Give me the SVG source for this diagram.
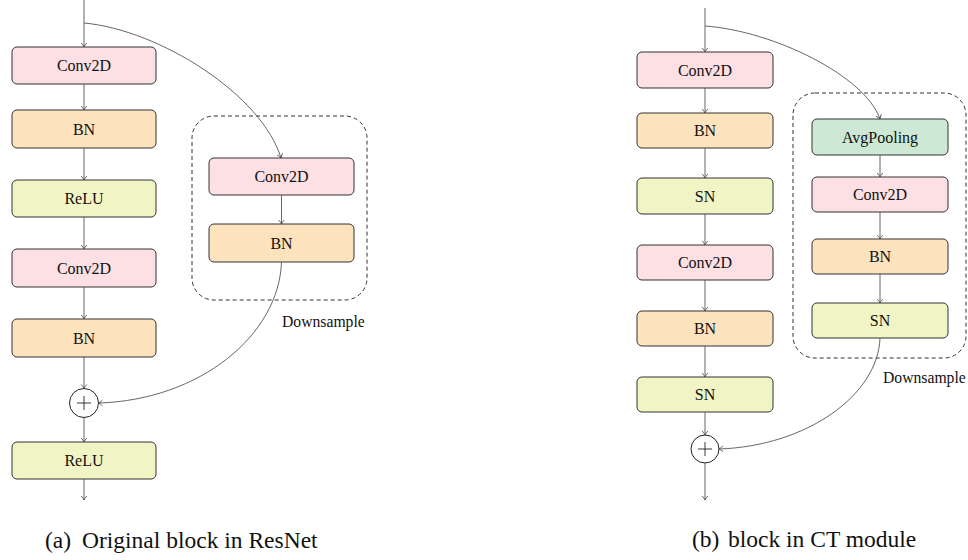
<svg xmlns="http://www.w3.org/2000/svg" width="968" height="560" viewBox="0 0 968 560">
<defs>
<style>
.box{stroke:#333;stroke-width:1;}
.conv{fill:#fce0e3;}
.bn{fill:#fde2be;}
.act{fill:#f1f4c4;}
.pool{fill:#cde8d4;}
.lbl{font-family:"Liberation Serif","Times New Roman",serif;font-size:16px;fill:#111;text-anchor:middle;}
.ds{fill:none;stroke:#333;stroke-width:1;stroke-dasharray:4 3;}
.dsl{font-family:"Liberation Serif","Times New Roman",serif;font-size:15.7px;fill:#111;}
.cap{font-family:"Liberation Serif","Times New Roman",serif;font-size:23.5px;fill:#111;}
.edge{fill:none;stroke:#555;stroke-width:0.9;marker-end:url(#arr);}
.plus{fill:#fff;stroke:#222;stroke-width:1;}
</style>
<marker id="arr" viewBox="-5 -4 6 8" refX="0" refY="0" markerWidth="6" markerHeight="8" markerUnits="userSpaceOnUse" orient="auto">
<path d="M-4,-2.8 Q-1.5,-0.6 0,0 Q-1.5,0.6 -4,2.8" fill="none" stroke="#444" stroke-width="0.8"/>
</marker>
</defs>
<rect width="968" height="560" fill="#fff"/>

<!-- left panel -->
<g id="l_ds"><rect class="ds" x="192" y="116" width="175" height="184" rx="22"/><text class="dsl" x="282" y="327">Downsample</text></g>
<g id="l_conv1"><rect class="box conv" x="12" y="47" width="144" height="37" rx="5"/><text class="lbl" x="84" y="71">Conv2D</text></g>
<g id="l_bn1"><rect class="box bn" x="12" y="110" width="144" height="38" rx="5"/><text class="lbl" x="84" y="134.5">BN</text></g>
<g id="l_relu1"><rect class="box act" x="12" y="180" width="144" height="37" rx="5"/><text class="lbl" x="84" y="204">ReLU</text></g>
<g id="l_conv2"><rect class="box conv" x="12" y="249" width="144" height="38" rx="5"/><text class="lbl" x="84" y="273.5">Conv2D</text></g>
<g id="l_bn2"><rect class="box bn" x="12" y="319" width="144" height="38" rx="5"/><text class="lbl" x="84" y="343.5">BN</text></g>
<g id="l_plus"><circle class="plus" cx="84" cy="403" r="14.5"/><path d="M77,403 H91 M84,396 V410" stroke="#222" stroke-width="0.9"/></g>
<g id="l_relu2"><rect class="box act" x="12" y="442" width="144" height="37" rx="5"/><text class="lbl" x="84" y="466">ReLU</text></g>
<g id="l_ds_conv"><rect class="box conv" x="209" y="158" width="145" height="37" rx="5"/><text class="lbl" x="281.5" y="182">Conv2D</text></g>
<g id="l_ds_bn"><rect class="box bn" x="209" y="224" width="145" height="38" rx="5"/><text class="lbl" x="281.5" y="248.5">BN</text></g>

<!-- right panel -->
<g id="r_ds"><rect class="ds" x="793" y="93" width="173" height="265" rx="22"/><text class="dsl" x="883" y="383">Downsample</text></g>
<g id="r_conv1"><rect class="box conv" x="637" y="52" width="136" height="36" rx="5"/><text class="lbl" x="705" y="75.5">Conv2D</text></g>
<g id="r_bn1"><rect class="box bn" x="637" y="113" width="136" height="35" rx="5"/><text class="lbl" x="705" y="136">BN</text></g>
<g id="r_sn1"><rect class="box act" x="637" y="178" width="136" height="36" rx="5"/><text class="lbl" x="705" y="201.5">SN</text></g>
<g id="r_conv2"><rect class="box conv" x="637" y="245" width="136" height="35" rx="5"/><text class="lbl" x="705" y="268">Conv2D</text></g>
<g id="r_bn2"><rect class="box bn" x="637" y="311" width="136" height="35" rx="5"/><text class="lbl" x="705" y="334">BN</text></g>
<g id="r_sn2"><rect class="box act" x="637" y="377" width="136" height="35" rx="5"/><text class="lbl" x="705" y="400">SN</text></g>
<g id="r_plus"><circle class="plus" cx="705" cy="449" r="14"/><path d="M698,449 H712 M705,442 V456" stroke="#222" stroke-width="0.9"/></g>
<g id="r_avg"><rect class="box pool" x="812" y="119" width="136" height="36" rx="5"/><text class="lbl" x="880" y="142.5">AvgPooling</text></g>
<g id="r_ds_conv"><rect class="box conv" x="812" y="177" width="136" height="35" rx="5"/><text class="lbl" x="880" y="200">Conv2D</text></g>
<g id="r_ds_bn"><rect class="box bn" x="812" y="239" width="136" height="35" rx="5"/><text class="lbl" x="880" y="262">BN</text></g>
<g id="r_ds_sn"><rect class="box act" x="812" y="303" width="136" height="35" rx="5"/><text class="lbl" x="880" y="326">SN</text></g>

<g id="connectors">
<path class="edge" d="M84,0 V47"/>
<path class="edge" d="M84,84 V110"/>
<path class="edge" d="M84,148 V180"/>
<path class="edge" d="M84,217 V249"/>
<path class="edge" d="M84,287 V319"/>
<path class="edge" d="M84,357 V388.5"/>
<path class="edge" d="M84,417.5 V442"/>
<path class="edge" d="M84,479 V500"/>
<path class="edge" d="M84,23 C160,30 262,95 281,158"/>
<path class="edge" d="M281.5,195 V224"/>
<path class="edge" d="M281.5,262 C279,335 200,400 98.5,403"/>

<path class="edge" d="M705,8 V52"/>
<path class="edge" d="M705,88 V113"/>
<path class="edge" d="M705,148 V178"/>
<path class="edge" d="M705,214 V245"/>
<path class="edge" d="M705,280 V311"/>
<path class="edge" d="M705,346 V377"/>
<path class="edge" d="M705,412 V435"/>
<path class="edge" d="M705,463 V500"/>
<path class="edge" d="M705,26 C774,31 865,76 880,119"/>
<path class="edge" d="M880,155 V177"/>
<path class="edge" d="M880,212 V239"/>
<path class="edge" d="M880,274 V303"/>
<path class="edge" d="M880,338 C878,395 807,446 719,449"/>
</g>

<text class="cap" x="45" y="548">(a)</text>
<text class="cap" x="82" y="548">Original block in ResNet</text>
<text class="cap" x="692" y="547">(b)</text>
<text class="cap" x="728" y="547">block in CT module</text>
</svg>
